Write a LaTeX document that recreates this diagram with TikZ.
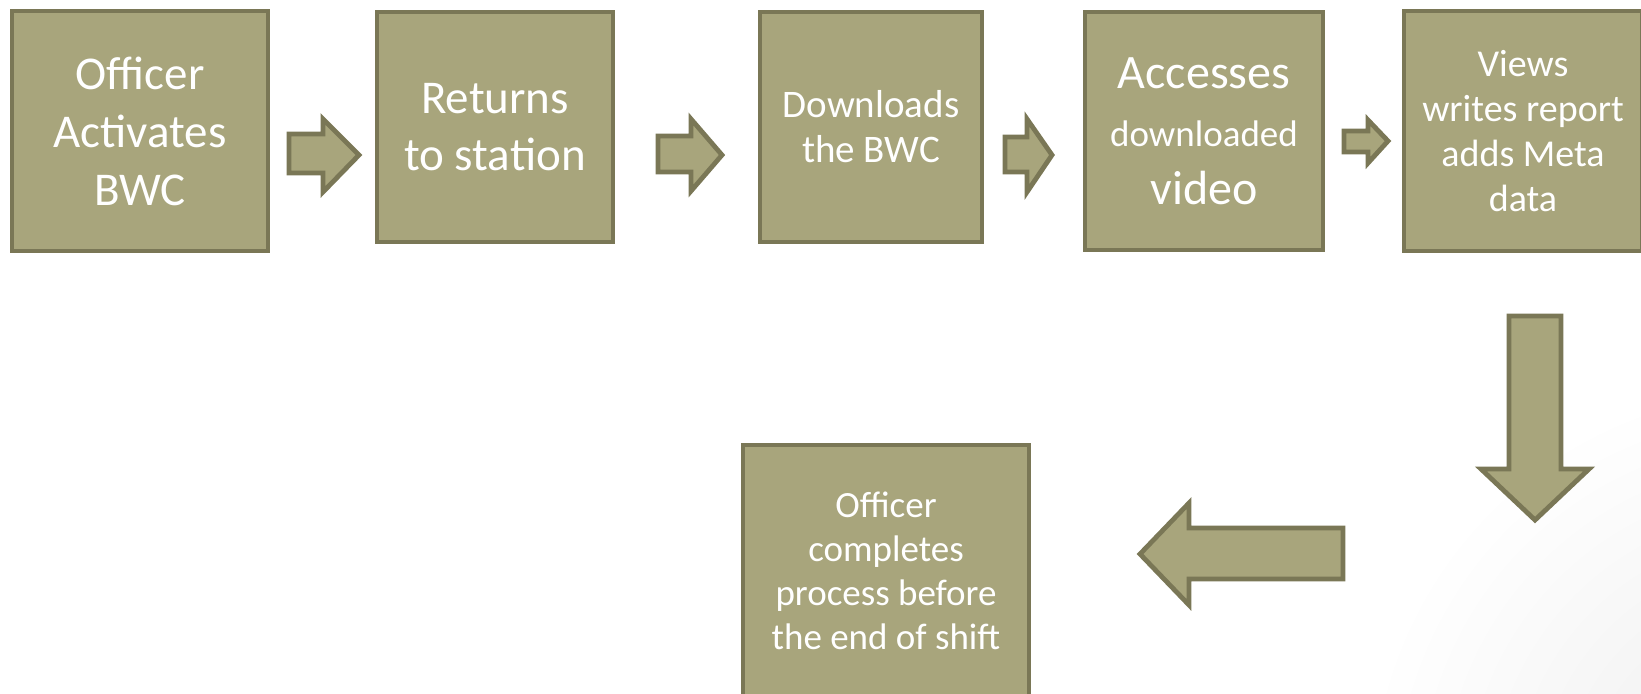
\documentclass[tikz,border=0pt]{standalone}
\usepackage{fontspec}
\setmainfont{Carlito}
\definecolor{khaki}{HTML}{A8A57C}
\definecolor{khakiedge}{HTML}{7A7756}
\begin{document}
\begin{tikzpicture}[x=0.5pt,y=-0.5pt,
  box/.style={draw=khakiedge, fill=khaki, line width=2.2pt, text=white, align=center, inner sep=0pt},
  blockarrow/.style={draw=khakiedge, fill=khaki, line width=2.4pt, line join=miter}]
\useasboundingbox (0,0) rectangle (1641,693);
\clip (0,0) rectangle (1641,693);
\shade[inner color=black!7, outer color=white] (1780,800) circle[radius=420];
% boxes
\node[box, minimum width=128pt, minimum height=120pt, font=\fontsize{23.5}{29}\selectfont] (b1) at (140,131)
  {Officer\\Activates\\BWC};
\node[box, minimum width=118pt, minimum height=115pt, font=\fontsize{23.5}{28.8}\selectfont] (b2) at (495,127)
  {Returns\\to station};
\node[box, minimum width=111pt, minimum height=115pt, font=\fontsize{19.5}{22.5}\selectfont] (b3) at (871,127)
  {Downloads\\the BWC};
\node[box, minimum width=119pt, minimum height=119pt, font=\fontsize{24}{29}\selectfont] (b4) at (1204,131)
  {Accesses\\{\fontsize{18.5}{22}\selectfont downloaded}\\video};
\node[box, minimum width=119pt, minimum height=120pt, font=\fontsize{19}{22.5}\selectfont] (b5) at (1523,131)
  {Views\\writes report\\adds Meta\\data};
\node[box, minimum width=143pt, minimum height=126pt, font=\fontsize{18.5}{22}\selectfont] (b6) at (886,571)
  {Officer\\completes\\process before\\the end of shift};
% block arrows
\draw[blockarrow] (289,134) -- (323,134) -- (323,119) -- (359,155) -- (323,192) -- (323,173) -- (289,173) -- cycle;
\draw[blockarrow] (658,136) -- (691,136) -- (691,119) -- (722,155) -- (691,191) -- (691,172) -- (658,172) -- cycle;
\draw[blockarrow] (1005,137) -- (1027,137) -- (1027,119) -- (1052,155) -- (1027,192) -- (1027,172) -- (1005,172) -- cycle;
\draw[blockarrow] (1344,131) -- (1368,131) -- (1368,120) -- (1388,141) -- (1368,163) -- (1368,152) -- (1344,152) -- cycle;
\draw[blockarrow] (1509,316) -- (1561,316) -- (1561,469) -- (1589,469) -- (1535,520) -- (1481,469) -- (1509,469) -- cycle;
\draw[blockarrow] (1343,528) -- (1189,528) -- (1189,503) -- (1140,554) -- (1189,605) -- (1189,579) -- (1343,579) -- cycle;
\end{tikzpicture}
\end{document}
